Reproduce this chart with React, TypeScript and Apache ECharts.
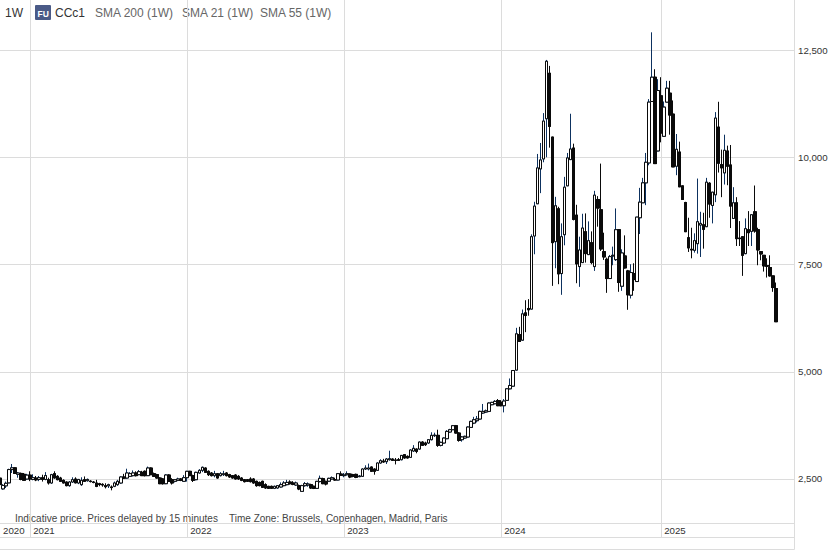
import React, { useEffect, useRef } from "react";
import * as echarts from "echarts";

const opens = [
  2520,2270,2340,2410,2720,2760,2610,2630,2610,2500,
  2590,2490,2520,2490,2530,2490,2484,2407,2624,2562,
  2523,2469,2430,2345,2430,2500,2407,2368,2484,2460,
  2450,2430,2407,2391,2375,2345,2340,2314,2330,2368,
  2407,2547,2523,2562,2578,2640,2601,2655,2679,2578,
  2756,2624,2601,2523,2500,2391,2593,2484,2446,2469,
  2500,2446,2531,2679,2578,2484,2640,2702,2756,2679,
  2640,2578,2624,2578,2601,2640,2601,2578,2593,2562,
  2523,2484,2484,2500,2500,2446,2420,2446,2368,2329,
  2329,2282,2290,2314,2345,2368,2430,2407,2360,2345,
  2212,2345,2360,2368,2330,2282,2440,2508,2445,2450,
  2500,2485,2477,2616,2578,2600,2616,2600,2608,2554,
  2562,2733,2733,2780,2733,2702,2873,2920,2904,2950,
  2966,2943,2950,2950,3067,3028,3005,3153,3199,3199,
  3362,3340,3340,3417,3510,3518,3285,3340,3440,3596,
  3650,3743,3572,3417,3456,3480,3704,3805,3860,3899,
  4040,4062,4077,4233,4256,4330,4290,4210,4334,4604,
  4666,5040,5870,5738,6375,6478,6463,8168,8920,9733,
  9966,10903,11965,10477,8036,8803,7292,8199,9338,9950,
  10221,8656,7455,7548,8268,7734,8013,7455,9020,8780,
  7803,7625,7176,7703,7617,8315,6997,7703,7354,6788,
  7292,7106,8594,8943,9408,9873,11306,11872,10152,11438,
  10493,11291,11500,11012,9795,10128,9338,8950,8129,7858,
  7834,7989,8423,8431,8385,9400,8881,9129,10710,9834,
  9640,10152,9826,8578,8943,8121,8152,7757,8315,8276,
  8733,8315,7803,7718,7478,7432,7238,6943,
];
const closes = [
  2370,2350,2400,2720,2760,2630,2640,2490,2470,2590,
  2500,2530,2480,2530,2490,2580,2407,2601,2523,2484,
  2446,2407,2345,2430,2484,2410,2490,2469,2446,2490,
  2440,2420,2329,2370,2360,2320,2368,2300,2407,2446,
  2547,2520,2640,2624,2640,2578,2671,2578,2578,2756,
  2601,2562,2523,2391,2391,2593,2446,2407,2484,2500,
  2469,2531,2679,2578,2469,2655,2702,2772,2655,2601,
  2578,2624,2523,2624,2624,2578,2547,2523,2500,2500,
  2469,2438,2446,2438,2407,2345,2345,2306,2290,2282,
  2282,2329,2345,2368,2407,2420,2391,2376,2407,2267,
  2345,2391,2383,2290,2282,2445,2515,2391,2383,2515,
  2530,2477,2624,2585,2593,2624,2547,2562,2539,2570,
  2733,2756,2756,2680,2680,2873,2927,2896,2966,2974,
  2935,2935,2935,3050,2990,2990,3176,3215,3145,3362,
  3285,3300,3417,3518,3525,3285,3355,3455,3610,3650,
  3743,3572,3400,3480,3495,3712,3844,3883,3900,4077,
  4077,4090,4272,4287,4310,4210,4210,4318,4604,4681,
  5031,5886,5707,6352,6313,6447,8152,8865,9756,9942,
  10849,12244,10725,8013,8873,7284,8152,9307,9989,10198,
  8555,7517,7842,8354,7757,8059,7548,9121,8819,7865,
  7679,7176,7687,7718,8315,7083,7772,7424,6796,7315,
  7152,8609,8958,9408,9888,11291,11872,9857,11562,10570,
  11175,11616,10989,9780,10190,9315,9020,8268,7889,7842,
  8059,8501,8462,8323,9423,8912,9191,10919,9865,9756,
  10167,9795,8865,8943,8106,8106,7718,8338,8245,8664,
  8284,7842,7749,7470,7462,7238,6966,6168,
];
const lows = [
  2300,2250,2290,2400,2640,2620,2530,2470,2460,2490,
  2450,2470,2450,2450,2440,2470,2370,2390,2510,2470,
  2440,2400,2330,2320,2410,2400,2380,2340,2440,2440,
  2420,2400,2310,2330,2320,2280,2290,2236,2310,2340,
  2390,2500,2510,2550,2560,2560,2590,2570,2560,2570,
  2590,2550,2510,2380,2370,2380,2430,2370,2420,2450,
  2450,2430,2440,2570,2430,2470,2630,2660,2640,2570,
  2560,2540,2510,2560,2570,2560,2530,2510,2490,2480,
  2450,2420,2430,2420,2390,2320,2330,2290,2270,2270,
  2270,2265,2275,2300,2330,2350,2370,2355,2340,2240,
  2200,2320,2320,2270,2265,2270,2420,2380,2350,2430,
  2490,2460,2470,2570,2540,2580,2520,2540,2520,2545,
  2555,2710,2700,2670,2600,2690,2860,2880,2850,2930,
  2920,2840,2925,2935,2975,2980,2995,3130,3100,3185,
  3270,3270,3320,3400,3480,3250,3260,3330,3430,3580,
  3640,3560,3370,3370,3440,3470,3690,3780,3820,3885,
  4020,4040,4060,4220,4240,4200,4195,4054,4320,4590,
  4650,5030,5700,5730,5925,6308,6460,7742,8920,9168,
  9888,10004,10229,7005,7416,7044,6796,7951,9338,9950,
  8532,7067,6982,7540,7548,7734,7509,7354,8385,7819,
  7610,6842,7176,7486,7586,6866,6889,7408,6447,6711,
  6889,7100,8214,8943,8888,9818,11306,9857,10145,10353,
  10478,11291,10531,9780,9586,9315,9020,8268,7796,7648,
  7780,7757,7679,7873,8385,8594,8462,8958,9648,9074,
  9369,9353,8354,8578,7935,7935,7238,7743,7935,7935,
  8245,7486,7602,7338,7199,7223,6866,6168,
];
const highs = [
  2600,2380,2440,2740,2850,2770,2660,2650,2640,2620,
  2680,2610,2570,2570,2600,2660,2530,2620,2680,2590,
  2550,2490,2440,2450,2540,2540,2500,2540,2560,2510,
  2470,2450,2480,2410,2400,2400,2390,2350,2440,2480,
  2560,2620,2740,2660,2700,2680,2710,2690,2700,2790,
  2770,2650,2620,2540,2520,2610,2610,2520,2500,2530,
  2520,2590,2690,2690,2600,2670,2730,2790,2770,2700,
  2660,2690,2640,2660,2690,2660,2620,2590,2610,2590,
  2540,2500,2500,2540,2520,2460,2440,2460,2400,2340,
  2345,2345,2360,2420,2450,2480,2470,2450,2440,2370,
  2365,2430,2420,2390,2345,2455,2580,2530,2460,2530,
  2560,2530,2640,2680,2640,2680,2630,2620,2625,2590,
  2745,2820,2860,2790,2745,2885,2960,2970,2990,3160,
  2980,2990,2990,3060,3080,3050,3190,3290,3210,3370,
  3380,3370,3430,3590,3580,3650,3370,3470,3640,3670,
  3760,3760,3590,3500,3510,3725,3860,3950,3970,4095,
  4250,4120,4285,4300,4340,4365,4340,4365,4620,4845,
  5040,6026,6050,6453,6670,6695,8206,8966,10082,10338,
  11035,12275,12136,10477,9082,8850,8462,9547,10105,11020,
  10322,8896,8152,8687,8695,8509,8276,9222,9098,9857,
  8245,7664,7726,7920,8811,8323,7858,8183,7377,7509,
  7532,8609,9291,9524,10105,11361,12919,12058,11826,11872,
  11306,11787,11787,11330,10547,10369,9338,8965,8594,8361,
  8230,9508,8733,8710,9524,9423,9191,11058,11299,10183,
  10531,10276,10291,9307,9074,8516,8168,8578,8749,8672,
  9346,8361,7803,7718,7648,7718,7238,7083,
];

const firstWeek = "2020-10-26";
const emptyWeeksAfterData = 6;
const yearTickLabels: Record<string, string> = {
  "2020-10-26": "2020",
  "2021-01-04": "2021",
  "2022-01-03": "2022",
  "2023-01-02": "2023",
  "2024-01-01": "2024",
  "2025-01-06": "2025",
};
const yearLines = ["2021-01-04", "2022-01-03", "2023-01-02", "2024-01-01", "2025-01-06"];
const priceTicks = [2500, 5000, 7500, 10000, 12500];
const legendIndicators = ["SMA 200 (1W)", "SMA 21 (1W)", "SMA 55 (1W)"];

const weeks: string[] = [];
{
  const d = new Date(firstWeek + "T00:00:00Z");
  for (let i = 0; i < opens.length + emptyWeeksAfterData; i++) {
    weeks.push(d.toISOString().slice(0, 10));
    d.setUTCDate(d.getUTCDate() + 7);
  }
}

const BLACK = "#0a0a0a";
const NAVY = "#0d3260";
const GRID = "#dcdcdc";
const FONT = '"Liberation Sans", Arial, sans-serif';

export default function App() {
  const ref = useRef<HTMLDivElement>(null);
  useEffect(() => {
    if (!ref.current) return;
    const chart = echarts.init(ref.current, undefined, { renderer: "svg", width: 834, height: 550 });
    const wicks = opens.map((o, i) => [o, closes[i], lows[i], highs[i]]);
    const bodies = opens.map((o, i) => [o, closes[i], Math.min(o, closes[i]), Math.max(o, closes[i])]);
    const legendX = [95, 182, 260];
    chart.setOption({
      animation: false,
      backgroundColor: "#fff",
      grid: { left: -1.4, top: 0, width: 795.4, height: 523.5, containLabel: false },
      xAxis: {
        type: "category",
        data: weeks,
        boundaryGap: false,
        axisLine: { show: false },
        axisTick: {
          show: true,
          length: 14,
          lineStyle: { color: GRID, width: 1 },
          interval: (_: number, v: string) => yearLines.includes(v),
        },
        axisLabel: {
          show: true,
          interval: (_: number, v: string) => v in yearTickLabels,
          formatter: (v: string) => yearTickLabels[v] ?? "",
          align: "left",
          padding: [0, 0, 0, 3],
          margin: 2,
          fontFamily: FONT,
          fontSize: 9.7,
          color: "#333",
          showMinLabel: true,
          hideOverlap: false,
        },
        splitLine: {
          show: true,
          interval: (_: number, v: string) => yearLines.includes(v),
          lineStyle: { color: GRID, width: 1 },
        },
      },
      yAxis: {
        type: "value",
        position: "right",
        min: 1462,
        max: 13673,
        scale: true,
        axisLine: { show: false },
        axisTick: { show: false, customValues: priceTicks },
        axisLabel: {
          customValues: priceTicks,
          margin: 4,
          fontFamily: FONT,
          fontSize: 9.7,
          color: "#333",
          formatter: (v: number) => v.toLocaleString("en-US"),
        },
        splitLine: { show: true, lineStyle: { color: GRID, width: 1 } },
      },
      series: [
        {
          type: "candlestick",
          name: "CCc1 wicks",
          data: wicks,
          barWidth: 3,
          silent: true,
          itemStyle: { color: NAVY, color0: BLACK, borderColor: NAVY, borderColor0: BLACK, borderWidth: 1 },
        },
        {
          type: "candlestick",
          name: "CCc1",
          data: bodies,
          barWidth: 3,
          silent: true,
          itemStyle: { color: "#fff", color0: BLACK, borderColor: BLACK, borderColor0: BLACK, borderWidth: 1 },
        },
      ],
      graphic: [
        { type: "line", silent: true, shape: { x1: 794.5, y1: 0, x2: 794.5, y2: 549.5 }, style: { stroke: GRID, lineWidth: 1 } },
        { type: "line", silent: true, shape: { x1: 0, y1: 523.5, x2: 794.5, y2: 523.5 }, style: { stroke: GRID, lineWidth: 1 } },
        { type: "line", silent: true, shape: { x1: 0, y1: 537.5, x2: 794.5, y2: 537.5 }, style: { stroke: GRID, lineWidth: 1 } },
        { type: "line", silent: true, shape: { x1: 0, y1: 549.5, x2: 794.5, y2: 549.5 }, style: { stroke: GRID, lineWidth: 1 } },
        { type: "text", silent: true, x: 5, y: 7, style: { text: "1W", fill: "#333", fontFamily: FONT, fontSize: 12 } },
        { type: "rect", silent: true, shape: { x: 35, y: 5, width: 16, height: 15, r: 1 }, style: { fill: "#4a5a87" } },
        { type: "text", silent: true, x: 37.5, y: 9, style: { text: "FU", fill: "#fff", fontFamily: FONT, fontSize: 8.5, fontWeight: "bold" } },
        { type: "text", silent: true, x: 55, y: 7, style: { text: "CCc1", fill: "#333", fontFamily: FONT, fontSize: 12 } },
        ...legendIndicators.map((t, i) => ({
          type: "text", silent: true, x: legendX[i], y: 7,
          style: { text: t, fill: "#666", fontFamily: FONT, fontSize: 12 },
        })),
        { type: "text", silent: true, x: 15, y: 513, style: { text: "Indicative price. Prices delayed by 15 minutes", fill: "#444", fontFamily: FONT, fontSize: 10 } },
        { type: "text", silent: true, x: 229, y: 513, style: { text: "Time Zone: Brussels, Copenhagen, Madrid, Paris", fill: "#444", fontFamily: FONT, fontSize: 10 } },
      ],
    });
    return () => chart.dispose();
  }, []);
  return <div ref={ref} style={{ position: "absolute", left: 0, top: 0, width: 834, height: 550 }} />;
}
